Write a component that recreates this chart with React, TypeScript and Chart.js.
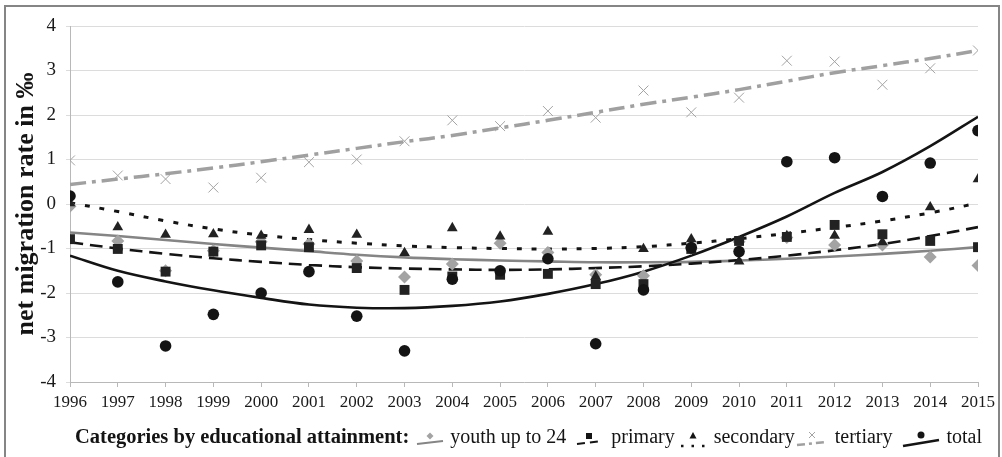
import { useEffect, useRef } from "react";
import { Chart, registerables } from "chart.js";
Chart.register(...registerables);

const years = [1996, 1997, 1998, 1999, 2000, 2001, 2002, 2003, 2004, 2005, 2006, 2007, 2008, 2009, 2010, 2011, 2012, 2013, 2014, 2015];

const youth = [-0.05, -0.83, -1.5, -1.05, -0.85, -0.9, -1.28, -1.64, -1.35, -0.88, -1.09, -1.59, -1.61, -1.0, -0.85, -0.75, -0.92, -0.92, -1.19, -1.38];
const primary = [-0.79, -1.01, -1.52, -1.07, -0.93, -0.97, -1.44, -1.93, -1.63, -1.59, -1.57, -1.8, -1.8, -1.01, -0.83, -0.74, -0.47, -0.68, -0.83, -0.97];
const secondary = [0.02, -0.52, -0.69, -0.68, -0.71, -0.58, -0.69, -1.1, -0.54, -0.73, -0.62, -1.63, -1.01, -0.79, -1.29, -0.72, -0.71, -0.86, -0.07, 0.56];
const tertiary = [0.98, 0.64, 0.56, 0.37, 0.59, 0.94, 1.0, 1.41, 1.88, 1.75, 2.09, 1.94, 2.55, 2.06, 2.39, 3.22, 3.2, 2.68, 3.05, 3.45];
const total = [0.18, -1.75, -3.19, -2.48, -2.0, -1.52, -2.52, -3.3, -1.69, -1.5, -1.23, -3.14, -1.93, -0.98, -1.07, 0.95, 1.04, 0.17, 0.92, 1.65];

const youthTrend = [-0.64, -0.72, -0.81, -0.9, -0.98, -1.06, -1.14, -1.2, -1.24, -1.27, -1.29, -1.31, -1.31, -1.3, -1.27, -1.23, -1.18, -1.12, -1.05, -0.97];
const primaryTrend = [-0.86, -1.0, -1.12, -1.22, -1.3, -1.37, -1.42, -1.45, -1.47, -1.48, -1.47, -1.44, -1.4, -1.34, -1.26, -1.16, -1.04, -0.9, -0.72, -0.52];
const secondaryTrend = [0.03, -0.17, -0.38, -0.56, -0.7, -0.8, -0.88, -0.94, -0.98, -1.0, -1.01, -1.0, -0.96, -0.88, -0.78, -0.66, -0.53, -0.38, -0.2, 0.02];
const tertiaryTrend = [0.44, 0.56, 0.68, 0.81, 0.95, 1.1, 1.25, 1.4, 1.54, 1.71, 1.88, 2.06, 2.24, 2.4, 2.57, 2.76, 2.95, 3.11, 3.27, 3.45];
const totalTrend = [-1.16, -1.5, -1.74, -1.94, -2.11, -2.26, -2.33, -2.34, -2.29, -2.19, -2.02, -1.8, -1.52, -1.16, -0.74, -0.28, 0.25, 0.72, 1.3, 1.96];

const yTicks = [-4, -3, -2, -1, 0, 1, 2, 3, 4];

const legendTitle = "Categories by educational attainment:";
const legendLabels = ["youth up to 24", "primary", "secondary", "tertiary", "total"];
const yTitle = "net migration rate in ‰";

const SERIF = '"Liberation Serif", "Times New Roman", serif';
const BLACK = "#141414";
const GRAY_MARK = "#a3a3a3";
const GRAY_LINE = "#858585";
const GRAY_TERT = "#a0a0a0";

function pts(ys: number[]) {
  return ys.map((y, i) => ({ x: years[i], y }));
}

function Icon({ kind }: { kind: number }) {
  const w = [30, 28, 28, 34, 40][kind];
  const lineY1 = 22;
  const lineY2 = 19;
  const lines = [
    <line key="l" x1={2} y1={lineY1} x2={w - 2} y2={lineY2} stroke={GRAY_LINE} strokeWidth={2} />,
    <line key="l" x1={2} y1={lineY1} x2={w - 2} y2={lineY2} stroke={BLACK} strokeWidth={2} strokeDasharray="8 5" />,
    <line key="l" x1={2} y1={lineY1 + 2} x2={w - 2} y2={lineY1 + 2} stroke={BLACK} strokeWidth={2.5} strokeDasharray="2.5 8" />,
    <line key="l" x1={2} y1={lineY1 + 1} x2={w - 2} y2={lineY2 + 1} stroke={GRAY_TERT} strokeWidth={2.5} strokeDasharray="8 4 3 4" />,
    <line key="l" x1={2} y1={lineY1 + 2} x2={w - 2} y2={lineY2 - 1} stroke={BLACK} strokeWidth={2.5} />,
  ][kind];
  const cx = w / 2;
  const cy = 14;
  const markers = [
    <polygon key="m" points={`${cx},${cy - 3.5} ${cx + 3.5},${cy} ${cx},${cy + 3.5} ${cx - 3.5},${cy}`} fill={GRAY_MARK} />,
    <rect key="m" x={cx - 3} y={cy - 3} width={6} height={6} fill={BLACK} />,
    <polygon key="m" points={`${cx},${cy - 4} ${cx + 3.5},${cy + 2.5} ${cx - 3.5},${cy + 2.5}`} fill={BLACK} />,
    <g key="m" stroke={GRAY_MARK} strokeWidth={1}>
      <line x1={cx - 3} y1={cy - 4} x2={cx + 3} y2={cy + 2} />
      <line x1={cx + 3} y1={cy - 4} x2={cx - 3} y2={cy + 2} />
    </g>,
    <circle key="m" cx={cx} cy={cy - 1} r={3.5} fill={BLACK} />,
  ][kind];
  return (
    <svg width={w} height={28} style={{ display: "block" }}>
      {lines}
      {markers}
    </svg>
  );
}

export default function App() {
  const ref = useRef<HTMLCanvasElement>(null);

  useEffect(() => {
    const font = { family: SERIF, size: 17 };
    const chart = new Chart(ref.current!, {
      type: "line",
      data: {
        datasets: [
          { label: "total", data: pts(total), showLine: false, pointStyle: "circle", pointRadius: 5.8, backgroundColor: BLACK, borderColor: BLACK, borderWidth: 0 },
          { label: "primary", data: pts(primary), showLine: false, pointStyle: "rect", pointRadius: 7, backgroundColor: "#222", borderColor: "#222", borderWidth: 0 },
          { label: "secondary", data: pts(secondary), showLine: false, pointStyle: "triangle", pointRadius: 6.2, backgroundColor: "#222", borderColor: "#222", borderWidth: 0 },
          { label: "youth up to 24", data: pts(youth), showLine: false, pointStyle: "rectRot", pointRadius: 6.5, backgroundColor: GRAY_MARK, borderColor: GRAY_MARK, borderWidth: 0 },
          { label: "tertiary", data: pts(tertiary), showLine: false, pointStyle: "crossRot", pointRadius: 7, backgroundColor: GRAY_MARK, borderColor: GRAY_MARK, borderWidth: 1 },
          { label: "total trend", data: pts(totalTrend), pointRadius: 0, borderColor: BLACK, borderWidth: 2.6, tension: 0.35, fill: false },
          { label: "primary trend", data: pts(primaryTrend), pointRadius: 0, borderColor: BLACK, borderWidth: 2.6, borderDash: [13, 7], tension: 0.35, fill: false },
          { label: "secondary trend", data: pts(secondaryTrend), pointRadius: 0, borderColor: BLACK, borderWidth: 3, borderDash: [5, 10], tension: 0.35, fill: false },
          { label: "youth trend", data: pts(youthTrend), pointRadius: 0, borderColor: GRAY_LINE, borderWidth: 2.6, tension: 0.35, fill: false },
          { label: "tertiary trend", data: pts(tertiaryTrend), pointRadius: 0, borderColor: GRAY_TERT, borderWidth: 3.5, borderDash: [16, 6, 4, 6], tension: 0.35, fill: false },
        ],
      },
      options: {
        animation: false,
        responsive: false,
        maintainAspectRatio: false,
        layout: { padding: { top: 26, right: 24, left: 0, bottom: 0 } },
        plugins: { legend: { display: false }, tooltip: { enabled: false } },
        scales: {
          x: {
            type: "linear",
            min: years[0],
            max: years[years.length - 1],
            afterBuildTicks: (s: any) => {
              s.ticks = years.map((v) => ({ value: v }));
            },
            ticks: { callback: (v: any) => String(v), font, color: "#1a1a1a", padding: 5, maxRotation: 0, autoSkip: false },
            grid: { drawOnChartArea: false, drawTicks: true, tickLength: 5, color: "#b8b8b8" },
            border: { color: "#b8b8b8", width: 1 },
            afterFit: (s: any) => {
              s.height = 38;
            },
          },
          y: {
            min: yTicks[0],
            max: yTicks[yTicks.length - 1],
            afterBuildTicks: (s: any) => {
              s.ticks = yTicks.map((v) => ({ value: v }));
            },
            ticks: { callback: (v: any) => String(v), font: { family: SERIF, size: 19 }, color: "#1a1a1a", padding: 10 },
            grid: { color: "#dcdcdc", tickLength: 4, lineWidth: 1 },
            border: { color: "#b8b8b8", width: 1 },
            title: { display: true, text: yTitle, font: { family: SERIF, size: 26, weight: "bold" }, color: "#141414", padding: { top: 11, bottom: 0 } },
            afterFit: (s: any) => {
              s.width = 70;
            },
          },
        },
      },
    } as any);
    return () => chart.destroy();
  }, []);

  return (
    <div style={{ position: "fixed", left: 0, top: 0, width: 1002, height: 457, background: "#fff", overflow: "hidden" }}>
      <canvas ref={ref} width={1002} height={420} style={{ position: "absolute", left: 0, top: 0, width: 1002, height: 420 }} />
      <div
        style={{
          position: "absolute",
          left: 4,
          top: 5,
          width: 996,
          height: 452,
          border: "2px solid #858585",
          borderBottom: "none",
          boxSizing: "border-box",
          pointerEvents: "none",
        }}
      />
      <div
        style={{
          position: "absolute",
          left: 75,
          top: 422,
          height: 28,
          display: "flex",
          alignItems: "center",
          fontFamily: SERIF,
          fontSize: 20,
          color: "#141414",
          whiteSpace: "nowrap",
        }}
      >
        <span style={{ fontWeight: "bold", marginRight: 6, fontSize: 20.5 }}>{legendTitle}</span>
        {legendLabels.map((lab, i) => (
          <div key={lab} style={{ display: "flex", alignItems: "center", marginRight: [9, 4, 0, 8, 0][i] }}>
            <Icon kind={i} />
            <span style={{ marginLeft: [5, 8, 7, 6, 6][i] }}>{lab}</span>
          </div>
        ))}
      </div>
    </div>
  );
}
